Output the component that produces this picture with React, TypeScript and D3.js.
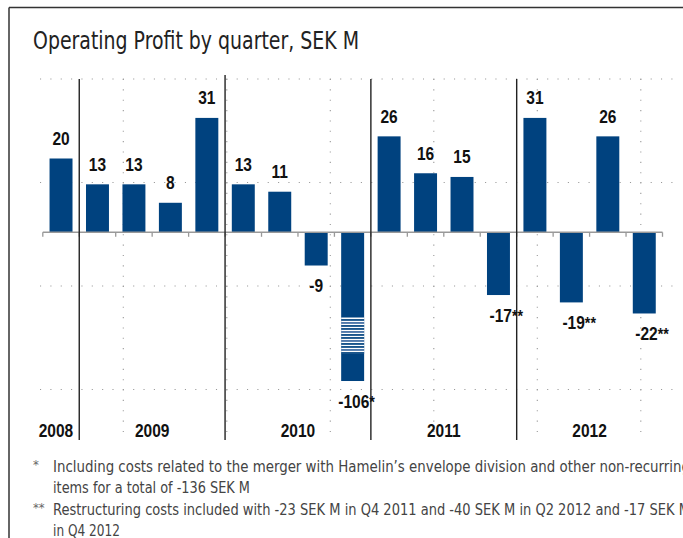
import React from "react";
import * as d3 from "d3";

const quarters = ["Q4 2008","Q1 2009","Q2 2009","Q3 2009","Q4 2009","Q1 2010","Q2 2010","Q3 2010","Q4 2010","Q1 2011","Q2 2011","Q3 2011","Q4 2011","Q1 2012","Q2 2012","Q3 2012","Q4 2012"];
const profits = [20, 13, 13, 8, 31, 13, 11, -9, -106, 26, 16, 15, -17, 31, -19, 26, -22];
const noteMarks = ["", "", "", "", "", "", "", "", "*", "", "", "", "**", "", "**", "", "**"];
const years = ["2008", "2009", "2010", "2011", "2012"];
const quartersPerYear = [1, 4, 4, 4, 4];
const title = "Operating Profit by quarter, SEK M";
const footnoteMarks = ["*", "", "**", ""];
const footnoteLines = [
  "Including costs related to the merger with Hamelin\u2019s envelope division and other non-recurring",
  "items for a total of -136 SEK M",
  "Restructuring costs included with -23 SEK M in Q4 2011 and -40 SEK M in Q2 2012 and -17 SEK M",
  "in Q4 2012",
];

const W = 683, H = 538;
const BAR = "#00427f";
const FONT = "'DejaVu Sans Condensed', 'DejaVu Sans', sans-serif";
const LBL = "'Liberation Sans', Arimo, Arial, sans-serif";

export default function App() {
  const x0 = 42.8, x1 = 662.5;
  const zeroY = 232.3, k = 3.69;
  const x = d3.scaleBand<string>().domain(quarters).range([x0, x1]).paddingInner(0.37).paddingOuter(0.185);
  const y = d3.scaleLinear().domain([-40, 40]).range([zeroY + 40 * k, zeroY - 40 * k]);
  const floorVal = -40.3; // broken-bar display limit
  const step = x.step();
  const boundaries = d3.range(quarters.length + 1).map((i) => x0 + i * step);
  const yearStarts: number[] = Array.from(d3.cumsum([0, ...quartersPerYear]));

  const gridStep = 103.5;
  const gridYs = d3.range(4).map((i) => 79 + i * gridStep);
  const gridXs = d3.range(6).map((i) => 123.3 + i * gridStep);

  return (
    <svg width={W} height={H} style={{ position: "absolute", left: 0, top: 0, background: "#fff" }} fontFamily={FONT}>
      {/* frame */}
      <line x1={9} x2={W} y1={7.5} y2={7.5} stroke="#333" strokeWidth={1.5} />
      <line x1={9} x2={9} y1={7.5} y2={H} stroke="#333" strokeWidth={1.5} />

      <text x={33} y={48.5} fontSize={25} fill="#222" textLength={326} lengthAdjust="spacingAndGlyphs">{title}</text>

      {/* dotted grid */}
      {gridYs.map((gy, i) => (
        <line key={"gy" + i} x1={40} x2={673} y1={gy} y2={gy} stroke="#999" strokeWidth={1.1} strokeDasharray="1.1 9.25" />
      ))}
      {gridXs.map((gx, i) => (
        <line key={"gx" + i} x1={gx} x2={gx} y1={79} y2={433} stroke="#999" strokeWidth={1.1} strokeDasharray="1.1 9.25" />
      ))}

      {/* bars */}
      {profits.map((v, i) => {
        const q = quarters[i];
        const bx = x(q)!;
        const bw = x.bandwidth();
        const dv = Math.max(v, floorVal);
        const top = y(Math.max(dv, 0));
        const bot = y(Math.min(dv, 0));
        const broken = v < floorVal;
        const h = bot - top;
        const bs = top + h * 0.573, be = top + h * 0.815;
        return (
          <g key={q}>
            <rect x={bx} y={top} width={bw} height={h} fill={BAR} />
            {broken && (
              <g>
                <rect x={bx} y={bs} width={bw} height={be - bs} fill="#fff" />
                {d3.range(bs + 1.6, be - 1, 3).map((sy, j) => (
                  <rect key={j} x={bx} y={sy} width={bw} height={1.7} fill={j % 3 === 1 ? "#3d6aa0" : BAR} />
                ))}
              </g>
            )}
          </g>
        );
      })}

      {/* zero axis with ticks */}
      <line x1={x0} x2={x1} y1={zeroY} y2={zeroY} stroke="#999" strokeWidth={1.5} />
      {boundaries.map((bx, i) => (
        <line key={"t" + i} x1={bx} x2={bx} y1={zeroY} y2={zeroY + 4.5} stroke="#999" strokeWidth={1.3} />
      ))}

      {/* year separators */}
      {yearStarts.slice(1, years.length).map((s, i) => (
        <line key={"ys" + i} x1={boundaries[s]} x2={boundaries[s]} y1={i === 1 ? 75 : 79} y2={440} stroke="#222" strokeWidth={1.4} />
      ))}

      {/* value labels */}
      {profits.map((v, i) => {
        const q = quarters[i];
        const cx = x(q)! + x.bandwidth() / 2;
        const dv = Math.max(v, floorVal);
        const ly = v >= 0 ? y(dv) - 13.5 : y(dv) + 26.5;
        const mark = noteMarks[i];
        const shift = mark ? mark.length * 3.9 : 0;
        return (
          <g key={"l" + q} transform={`translate(${cx + shift},${ly}) scale(0.84,1)`}>
            <text x={0} y={0} fontFamily={LBL} fontSize={18.5} fontWeight="bold" fill="#111" textAnchor="middle">
              {String(v)}
              {mark && <tspan fontSize={17} dy={0}>{mark}</tspan>}
            </text>
          </g>
        );
      })}

      {/* year labels */}
      {years.map((yr, i) => {
        const a = boundaries[yearStarts[i]], b = boundaries[yearStarts[i + 1]];
        const single = quartersPerYear[i] === 1;
        return (
          <g key={yr} transform={`translate(${single ? b - 6 : (a + b) / 2},436.7) scale(0.84,1)`}>
            <text x={0} y={0} fontFamily={LBL} fontSize={18.5} fontWeight="bold" fill="#111" textAnchor={single ? "end" : "middle"}>{yr}</text>
          </g>
        );
      })}

      {/* footnotes */}
      {footnoteLines.map((line, i) => {
        const by = 471.5 + i * 21.5;
        const lens = [637, 197, 637, 67];
        return (
          <g key={"fn" + i}>
            {footnoteMarks[i] && <text x={33} y={by - 3} fontSize={13} fill="#666">{footnoteMarks[i]}</text>}
            <text x={53} y={by} fontSize={15.5} fill="#444" textLength={lens[i]} lengthAdjust="spacingAndGlyphs">{line}</text>
          </g>
        );
      })}
    </svg>
  );
}
